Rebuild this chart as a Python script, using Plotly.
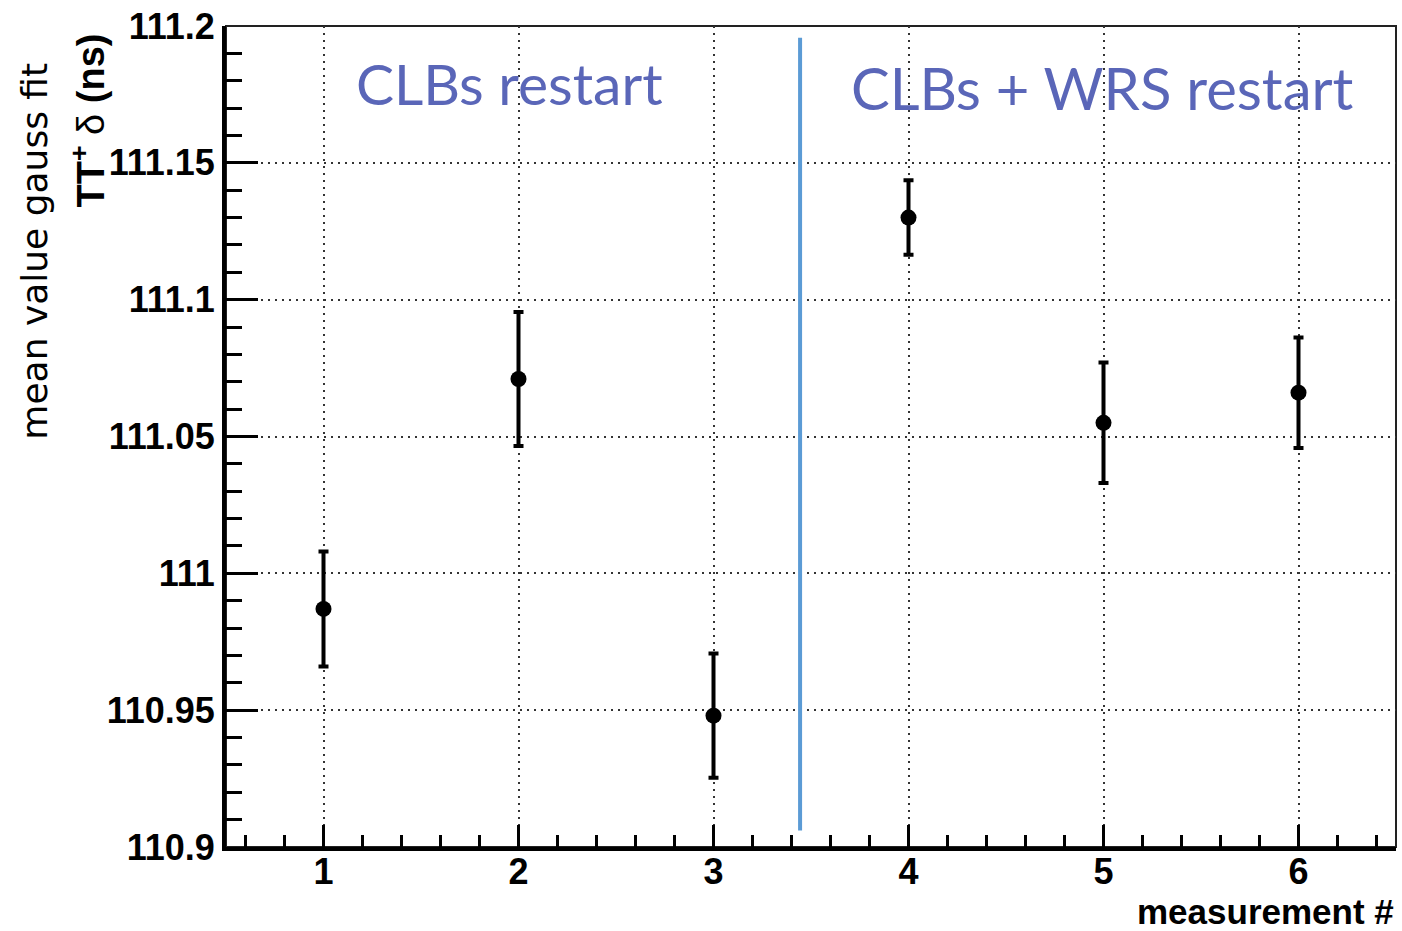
import plotly.graph_objects as go

# Measurement index and fitted Gaussian mean (ns) with its uncertainty
measurement = [1, 2, 3, 4, 5, 6]
mean_ns = [110.987, 111.071, 110.948, 111.130, 111.055, 111.066]
err_ns = [0.021, 0.0245, 0.0227, 0.0136, 0.022, 0.0202]

y_tickvals = [110.9, 110.95, 111.0, 111.05, 111.1, 111.15, 111.2]
y_ticktext = ["110.9", "110.95", "111", "111.05", "111.1", "111.15", "111.2"]
x_tickvals = [1, 2, 3, 4, 5, 6]
x_ticktext = ["1", "2", "3", "4", "5", "6"]

# x position separating the two restart campaigns
split_x = 3.444

BOLD = "Liberation Sans"
LABEL_FONT = "Lato"
LABEL_COLOR = "#5a66b8"

fig = go.Figure()
fig.add_trace(go.Scatter(
    x=measurement, y=mean_ns, mode="markers",
    marker=dict(color="black", size=16, symbol="circle"),
    error_y=dict(type="data", array=err_ns, visible=True,
                 color="black", thickness=4, width=5),
    showlegend=False,
))

grid_dash = "2px,5px"
fig.update_xaxes(
    range=[0.5, 6.5],
    tickvals=x_tickvals, ticktext=x_ticktext,
    ticks="inside", ticklen=22, tickwidth=3, tickcolor="black",
    minor=dict(tick0=0, dtick=0.2, ticks="inside", ticklen=12,
               tickwidth=3, tickcolor="black", showgrid=False),
    showgrid=True, gridcolor="#333333", gridwidth=2, griddash=grid_dash,
    showline=True, linecolor="black", linewidth=4, mirror=False,
    zeroline=False, ticklabelstandoff=-10,
    tickfont=dict(family=BOLD, size=36, color="black", weight="bold"),
)
fig.update_yaxes(
    range=[110.9, 111.2],
    tickvals=y_tickvals, ticktext=y_ticktext,
    ticks="inside", ticklen=32, tickwidth=3, tickcolor="black",
    minor=dict(tick0=110.9, dtick=0.01, ticks="inside", ticklen=16,
               tickwidth=3, tickcolor="black", showgrid=False),
    showgrid=True, gridcolor="#333333", gridwidth=2, griddash=grid_dash,
    showline=True, linecolor="black", linewidth=4, mirror=False,
    zeroline=False,
    tickfont=dict(family=BOLD, size=36, color="black", weight="bold"),
)

# frame on top and right
fig.add_shape(type="rect", xref="paper", yref="paper", x0=0, x1=1, y0=0, y1=1,
              line=dict(color="#222222", width=2), layer="below")

# campaign separator
fig.add_shape(type="line", xref="x", yref="y",
              x0=split_x, x1=split_x, y0=110.906, y1=111.1957,
              line=dict(color="#5b9bd5", width=4))

annotations = [
    dict(x=1.956, y=111.179, xref="x", yref="y", text="CLBs restart",
         showarrow=False, font=dict(family=LABEL_FONT, size=57, color=LABEL_COLOR)),
    dict(x=4.997, y=111.1775, xref="x", yref="y", text="CLBs + WRS restart",
         showarrow=False, font=dict(family=LABEL_FONT, size=58, color=LABEL_COLOR)),
    dict(x=35, y=248, xref="paper", yref="paper", text="mean value gauss fit",
         showarrow=False, textangle=-90, xanchor="center",
         font=dict(family="DejaVu Sans", size=36, color="black")),
    dict(x=88, y=116, xref="paper", yref="paper",
         text="<b>TT</b><sup><b>+</b></sup> δ <b>(ns)</b>",
         showarrow=False, textangle=-90, xanchor="center",
         font=dict(family=BOLD, size=38, color="black")),
    dict(x=1396, y=912, xref="paper", yref="paper", text="<b>measurement #</b>",
         showarrow=False, xanchor="right",
         font=dict(family=BOLD, size=35, color="black")),
]

W, H = 1402, 931
L, R, T, B = 226, 6, 21, 84
pw, ph = W - L - R, H - T - B
for a in annotations:
    if a["xref"] == "paper":
        a["x"] = (a["x"] - L) / pw
        a["y"] = 1 - (a["y"] - T) / ph
    a.setdefault("xanchor", "center")
    a["yanchor"] = "middle"
fig.update_layout(annotations=annotations)

fig.update_layout(
    width=W, height=H,
    margin=dict(l=L, r=R, t=T, b=B, pad=0),
    paper_bgcolor="white", plot_bgcolor="white",
    showlegend=False,
)

fig.write_html("out.html")
